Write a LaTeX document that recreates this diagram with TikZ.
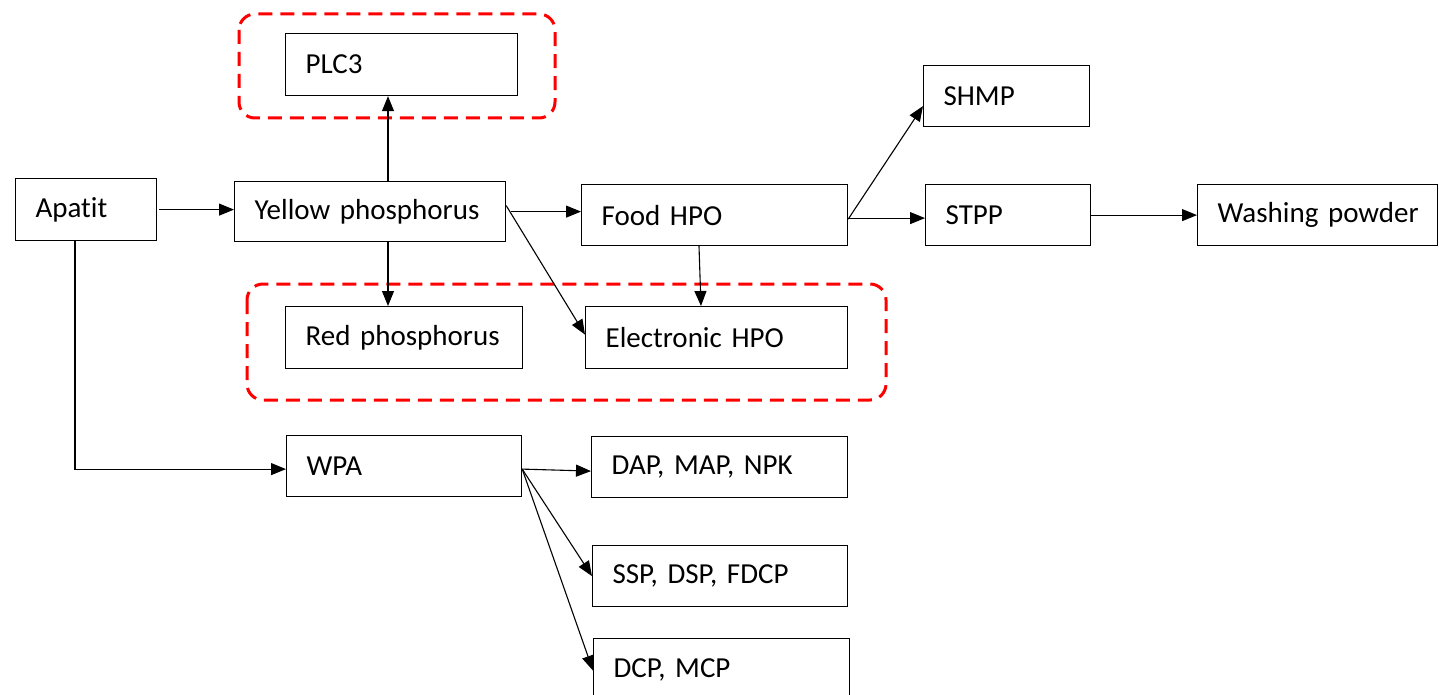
\documentclass[tikz,border=0pt]{standalone}
\usepackage{fontspec}
\setmainfont{Carlito}[Ligatures=NoCommon]
\usetikzlibrary{arrows.meta,calc}
\begin{document}
\begin{tikzpicture}[x=1pt,y=-1pt,
  font=\fontsize{29}{34}\selectfont,
  box/.style={draw=black, line width=1.2pt, rectangle, anchor=north west,
    inner xsep=20pt, inner ysep=0pt, align=left, minimum height=62pt},
  link/.style={line width=1.1pt, -{Triangle[length=15pt,width=12pt]}},
  groupbox/.style={draw=red, line width=3pt, dash pattern=on 14pt off 8pt, rounded corners=16pt}
]
\useasboundingbox (0,0) rectangle (1439,695);

% process boxes (top-left corner, width)
\node[box, text width=101pt] (apatit) at (15,178) {Apatit};
\node[box, text width=231pt, minimum height=60pt] (yellow) at (234,181) {\mbox{Yellow phosphorus}};
\node[box, text width=192pt] (plc) at (285,33) {PLC3};
\node[box, text width=226pt, minimum height=61pt] (food) at (581,184) {Food HPO};
\node[box, text width=197pt] (red) at (285,306) {\mbox{Red phosphorus}};
\node[box, text width=222pt] (elec) at (585,306) {\mbox{Electronic HPO}};
\node[box, text width=126pt, minimum height=61pt] (shmp) at (923,65) {SHMP};
\node[box, text width=125pt, minimum height=61pt] (stpp) at (925,184) {STPP};
\node[box, text width=200pt, minimum height=61pt] (wash) at (1197,184) {\mbox{Washing powder}};
\node[box, text width=195pt, minimum height=61pt] (wpa) at (286,435) {WPA};
\node[box, text width=216pt, minimum height=61pt] (dap) at (591,436) {\mbox{DAP, MAP, NPK}};
\node[box, text width=215pt, minimum height=61pt] (ssp) at (592,545) {\mbox{SSP, DSP, FDCP}};
\node[box, text width=216pt, minimum height=62pt] (dcp) at (593,638) {\mbox{DCP, MCP}};

% highlighted groups
\draw[groupbox] (239,14) rectangle (555,118);
\draw[groupbox] (247,284) rectangle (886,400);

% connectors
\draw[link] ([xshift=2pt]apatit.east) -- (yellow.west |- apatit.east);
\draw[link] ([xshift=154pt]yellow.north west) -- ([xshift=103pt]plc.south west);
\draw[link] ([xshift=154pt]yellow.south west) -- ([xshift=103pt]red.north west);
\draw[link] ([xshift=5pt]yellow.east) -- (food.west |- yellow.east);
\draw[link] ([yshift=6pt]yellow.east) -- ([yshift=3pt]elec.west);
\draw[link] ([xshift=118pt]food.south west) -- ([xshift=116pt]elec.north west);
\draw[link] ([yshift=-4pt]food.east) -- ([yshift=-10pt]shmp.west);
\draw[link] ([yshift=-3pt]food.east) -- ([yshift=-3pt]stpp.west);
\draw[link] (stpp.east) -- (wash.west);
\draw[link] ([xshift=60pt]apatit.south west) |- ([yshift=-3pt]wpa.west);
\draw[link] ([yshift=-3pt]wpa.east) -- ([yshift=-4pt]dap.west);
\draw[link] ([yshift=-3pt]wpa.east) -- (ssp.west);
\draw[link] ([yshift=-3pt]wpa.east) -- ([yshift=-1pt]dcp.west);
\end{tikzpicture}
\end{document}
